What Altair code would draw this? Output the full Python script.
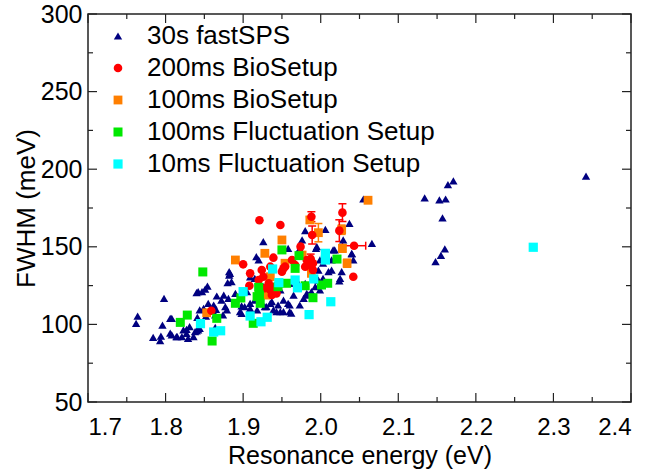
import altair as alt
import pandas as pd

# ---------------- data ----------------
series_names = ["30s fastSPS", "200ms BioSetup", "100ms BioSetup",
                "100ms Fluctuation Setup", "10ms Fluctuation Setup"]
series_colors = ["#000080", "#ff0000", "#ff7f00", "#00e800", "#00ffff"]
series_shapes = ["triangle-up", "circle", "square", "square", "square"]
series_sizes = [70, 85, 70, 70, 70]

tri_E = [1.764, 1.762, 1.798, 1.784, 1.793, 1.794, 1.806, 1.815, 1.806, 1.796,
         1.827, 1.831, 1.840, 1.844, 1.841, 1.852, 1.849, 1.855, 1.864, 1.874,
         1.879, 1.840, 1.851, 1.854, 1.866, 1.875, 1.882, 1.882, 1.880, 1.865,
         1.898, 1.909, 1.918, 1.920, 1.941, 1.943, 1.952, 1.930, 1.937, 1.905,
         1.808, 1.814, 1.821, 1.827, 1.829, 1.838, 1.842, 1.844, 1.857, 1.862,
         1.877, 1.881, 1.885, 1.883, 1.842, 1.808, 1.864, 1.898, 1.890, 1.847,
         1.872, 1.896, 1.902, 1.909, 1.915, 1.922, 1.928, 1.935, 1.939, 1.945,
         1.948, 1.952, 1.958, 1.965, 1.960, 1.973, 1.978, 1.984, 1.988, 1.993,
         1.999, 1.997, 2.003, 2.014, 2.018, 1.995, 1.973, 1.958, 1.926, 1.980,
         1.915, 1.909, 1.920, 1.926, 1.937, 1.948, 1.960, 1.969, 1.823, 1.836,
         2.066, 2.037, 2.006, 1.980, 1.976, 1.994, 2.029, 2.016, 2.040, 2.003,
         2.024, 1.960, 1.962, 1.982, 1.997, 2.010, 1.999, 2.055, 1.917, 2.040,
         2.042, 2.014, 2.027, 2.025, 2.134, 2.164, 2.171, 2.153, 2.161, 2.157,
         2.160, 2.155, 2.148, 2.342]
tri_F = [105.4, 100.7, 116.8, 91.7, 89.5, 92.5, 94.3, 92.1, 103.9, 99.6,
         96.8, 98.5, 95.9, 97.5, 104.6, 105.4, 110.4, 113.6, 106.1, 106.1,
         109.3, 120.4, 122.8, 124.7, 118.3, 118.9, 131.8, 134.0, 126.9, 109.7,
         111.9, 110.4, 109.3, 141.5, 120.4, 108.2, 108.2, 111.4, 114.6, 121.1,
         93.2, 92.1, 92.1, 94.2, 91.0, 95.3, 96.4, 109.3, 109.3, 112.5,
         111.4, 116.8, 127.5, 132.9, 121.1, 103.9, 98.1, 107.1, 120.0, 121.1,
         115.7, 108.2, 111.4, 113.6, 115.7, 113.6, 111.4, 113.6, 109.3, 112.5,
         108.2, 115.7, 113.6, 118.9, 108.2, 112.5, 116.8, 118.9, 121.1, 124.3,
         122.2, 128.6, 129.7, 141.5, 148.0, 150.1, 149.0, 149.0, 153.3, 126.5,
         129.7, 130.7, 122.2, 124.3, 123.3, 122.2, 126.5, 128.6, 96.4, 92.1,
         152.2, 165.1, 161.3, 160.4, 154.4, 149.0, 154.4, 148.0, 145.8, 139.4,
         128.0, 112.5, 107.2, 120.0, 135.0, 134.0, 141.5, 180.8, 143.6, 145.4,
         141.5, 135.0, 134.0, 129.7, 181.6, 190.0, 192.4, 180.2, 180.8, 168.6,
         148.6, 144.5, 140.4, 195.6]

red_E = [1.921, 1.948, 2.028, 1.988, 1.989, 2.024, 2.043, 1.974, 1.939, 1.900,
         1.909, 1.952, 1.935, 1.908, 1.859, 1.935, 2.042, 1.987, 1.990, 1.980,
         1.920, 1.926, 1.933, 1.928, 1.935, 1.941, 1.943, 1.937, 1.948, 1.954,
         1.950, 1.963, 1.967, 1.982, 1.988, 1.986, 1.990, 1.924]
red_F = [167.1, 164.0, 172.0, 169.4, 157.6, 160.4, 150.7, 150.1, 143.0, 138.7,
         132.9, 136.1, 137.2, 124.9, 108.8, 123.3, 130.7, 142.3, 139.4, 137.2,
         128.6, 130.7, 126.5, 123.3, 122.2, 124.3, 120.0, 118.9, 126.5, 137.2,
         134.0, 141.5, 138.3, 141.5, 140.4, 138.3, 135.0, 135.0]
red_errF = [0, 0, 5.7, 3.2, 5.8, 7.0, 0, 0, 0, 0,
            0, 0, 0, 0, 0, 0, 0, 3.0, 0, 0,
            0, 0, 0, 0, 0, 0, 0, 0, 0, 0,
            0, 0, 0, 0, 0, 0, 0, 0]
red_errE = [0, 0, 0, 0, 0, 0, 0.015, 0, 0, 0,
            0, 0, 0, 0, 0, 0, 0, 0, 0, 0,
            0, 0, 0, 0, 0, 0, 0, 0, 0, 0,
            0, 0, 0, 0, 0, 0, 0, 0]

org_E = [2.061, 1.986, 1.997, 2.027, 2.028, 2.034, 1.976, 1.890, 1.928, 1.950,
         1.853, 1.954, 1.930, 1.988, 1.935]
org_F = [180.0, 167.3, 159.1, 161.0, 149.0, 139.4, 144.7, 141.5, 145.8, 154.4,
         107.5, 139.4, 118.9, 132.9, 130.7]
org_errF = [2.0, 2.0, 5.9, 3.0, 2.5, 2.6, 0, 0, 0, 0,
            0, 0, 0, 0, 0]

grn_E = [1.848, 1.950, 1.920, 1.897, 1.890, 1.921, 1.922, 1.828, 1.819, 1.866,
         1.860, 1.913, 2.021, 1.972, 1.990, 2.009, 2.001, 1.980, 1.967, 1.956,
         1.945, 1.918]
grn_F = [133.8, 148.0, 123.9, 117.0, 113.6, 118.9, 113.6, 106.0, 101.3, 103.9,
         89.3, 100.7, 142.1, 144.3, 117.2, 126.5, 125.4, 124.9, 136.1, 126.5,
         124.3, 117.9]

cyn_E = [2.274, 2.006, 2.006, 1.991, 1.967, 1.970, 2.013, 1.985, 1.938, 1.900,
         1.946, 1.909, 1.923, 1.931, 1.845, 1.862, 1.871]
cyn_F = [149.7, 145.8, 141.5, 129.3, 128.6, 123.6, 114.6, 106.3, 135.7, 121.1,
         126.9, 105.4, 101.7, 104.6, 100.5, 95.1, 95.9]

x_major = [1.7, 1.8, 1.9, 2.0, 2.1, 2.2, 2.3, 2.4]
x_minor = [1.75, 1.85, 1.95, 2.05, 2.15, 2.25, 2.35]
y_major = [50, 100, 150, 200, 250, 300]
y_minor = [75, 125, 175, 225, 275]

# ---------------- tables ----------------
W, H = 543, 388
FONT = "Liberation Sans"

frames = []
for name, E, F in [(series_names[0], tri_E, tri_F), (series_names[2], org_E, org_F),
                   (series_names[1], red_E, red_F), (series_names[3], grn_E, grn_F),
                   (series_names[4], cyn_E, cyn_F)]:
    frames.append(pd.DataFrame({"E": E, "F": F, "series": name}))
pts = pd.concat(frames, ignore_index=True)
pts["order"] = range(len(pts))

xs = alt.Scale(domain=[1.7, 2.4], nice=False, zero=False)
ys = alt.Scale(domain=[50, 300], nice=False, zero=False)
cscale = alt.Scale(domain=series_names, range=series_colors)

x_axis = alt.Axis(values=x_major, format=".1f", ticks=False, domain=False, grid=False,
                  labelFontSize=24, labelFont=FONT, labelColor="black", labelPadding=13,
                  labelBaseline="top", labelLineHeight=22,
                  title="Resonance energy (eV)", titleFontSize=25, titleFont=FONT,
                  titleFontWeight="normal", titleColor="black", titlePadding=4,
                  titleLineHeight=24)
y_axis = alt.Axis(values=y_major, format="d", ticks=False, domain=False, grid=False,
                  labelFontSize=25, labelFont=FONT, labelColor="black", labelPadding=6,
                  title="FWHM (meV)", titleFontSize=26, titleFont=FONT,
                  titleFontWeight="normal", titleColor="black", titlePadding=1)

points = alt.Chart(pts).mark_point(filled=True, opacity=1, strokeWidth=0).encode(
    x=alt.X("E:Q", scale=xs, axis=x_axis),
    y=alt.Y("F:Q", scale=ys, axis=y_axis),
    color=alt.Color("series:N", scale=cscale, sort=series_names,
                    legend=alt.Legend(title=None, orient="none", legendX=17, legendY=9,
                                      labelFontSize=26, labelFont=FONT, labelColor="black",
                                      labelLimit=500, symbolSize=45, rowPadding=6,
                                      labelOffset=16, symbolStrokeWidth=0)),
    shape=alt.Shape("series:N", scale=alt.Scale(domain=series_names, range=series_shapes),
                    sort=series_names),
    size=alt.Size("series:N", scale=alt.Scale(domain=series_names, range=series_sizes),
                  legend=None),
    order="order:Q",
)

err_layers = []
for name, col, E_list, F_list, eF_list, eE_list in [
        (series_names[2], series_colors[2], org_E, org_F, org_errF, [0] * len(org_E)),
        (series_names[1], series_colors[1], red_E, red_F, red_errF, red_errE)]:
    v = pd.DataFrame([{"E": E, "lo": F - e, "hi": F + e}
                      for E, F, e in zip(E_list, F_list, eF_list) if e > 0])
    if len(v):
        err_layers.append(alt.Chart(v).mark_rule(color=col, strokeWidth=1.5).encode(
            x="E:Q", y="lo:Q", y2="hi:Q"))
        for end in ["lo", "hi"]:
            err_layers.append(alt.Chart(v).mark_tick(
                orient="horizontal", size=8, thickness=1.5, color=col, opacity=1).encode(
                x="E:Q", y=f"{end}:Q"))
    h = pd.DataFrame([{"F": F, "lo": E - e, "hi": E + e}
                      for E, F, e in zip(E_list, F_list, eE_list) if e > 0])
    if len(h):
        err_layers.append(alt.Chart(h).mark_rule(color=col, strokeWidth=1.5).encode(
            y="F:Q", x="lo:Q", x2="hi:Q"))
        for end in ["lo", "hi"]:
            err_layers.append(alt.Chart(h).mark_tick(
                orient="vertical", size=8, thickness=1.5, color=col, opacity=1).encode(
                y="F:Q", x=f"{end}:Q"))

TC = "#222222"
def xticks(vals, length):
    d = pd.DataFrame({"v": vals})
    b = alt.Chart(d).mark_rule(color=TC, strokeWidth=1.2).encode(
        x="v:Q", y=alt.value(H), y2=alt.value(H - length))
    t = alt.Chart(d).mark_rule(color=TC, strokeWidth=1.2).encode(
        x="v:Q", y=alt.value(0), y2=alt.value(length))
    return [b, t]

def yticks(vals, length):
    d = pd.DataFrame({"v": vals})
    l = alt.Chart(d).mark_rule(color=TC, strokeWidth=1.2).encode(
        y="v:Q", x=alt.value(0), x2=alt.value(length))
    r = alt.Chart(d).mark_rule(color=TC, strokeWidth=1.2).encode(
        y="v:Q", x=alt.value(W), x2=alt.value(W - length))
    return [l, r]

tick_layers = xticks(x_major, 9) + xticks(x_minor, 5) + yticks(y_major, 9) + yticks(y_minor, 5)

chart = alt.layer(
    *tick_layers, *err_layers, points
).properties(
    width=W, height=H,
    autosize=alt.AutoSizeParams(type="none"),
    padding={"left": 88, "top": 14, "right": 18, "bottom": 68},
    background="white",
).configure_view(stroke=TC, strokeWidth=1.5)

chart.save("out.html", embed_options={"renderer": "svg", "actions": False})
